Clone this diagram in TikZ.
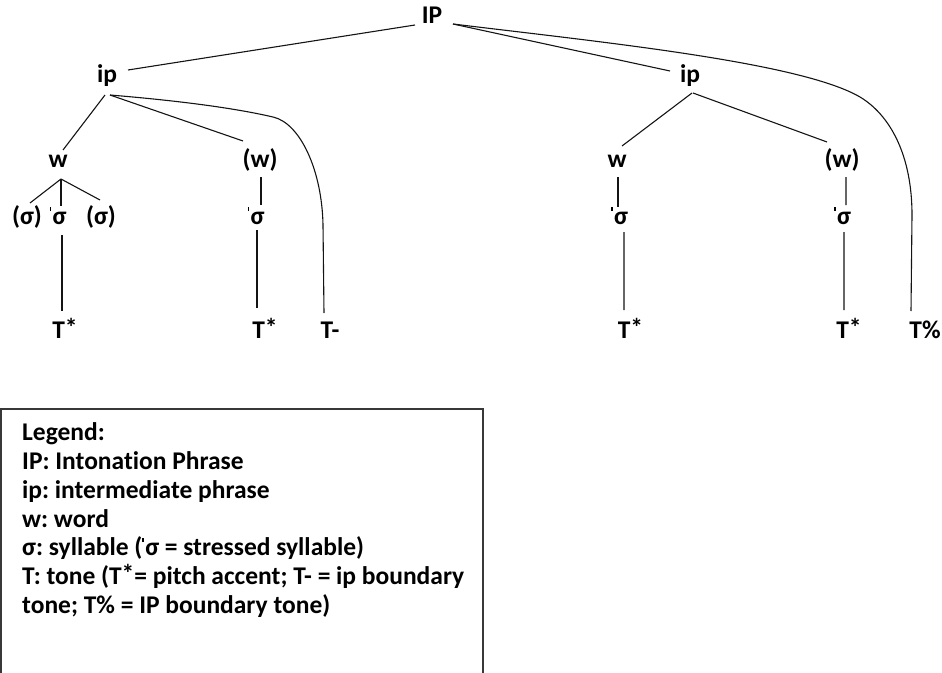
\documentclass[tikz,border=0pt]{standalone}
\usepackage{fontspec}
\setmainfont{Carlito}[Ligatures={NoCommon}]
\usetikzlibrary{calc}
\newcommand\strmark{\rule[13bp]{1.4bp}{4bp}\kern1.5bp}
\newcommand\tstar{T\raisebox{0.04em}{*}}
\begin{document}
\frenchspacing
\begin{tikzpicture}[x=1bp,y=-1bp,
  lab/.style={font=\fontsize{25.5bp}{29bp}\selectfont\bfseries, inner sep=0pt, anchor=base, text=black},
  legline/.style={font=\fontsize{25.5bp}{29bp}\selectfont\bfseries, inner sep=0pt, anchor=base west, text=black},
  edge/.style={draw=black!92, line width=1.1bp},
  frame/.style={draw=black!78, line width=1.4bp}]
\useasboundingbox (0,0) rectangle (942,673);
% tree nodes
\node[lab] (IP)  at (432,24) {IP};
\node[lab] (ipL) at (107,83) {ip};
\node[lab] (ipR) at (690,83) {ip};
\node[lab] (wL)  at (58,168) {w};
\node[lab] (wpL) at (260,168) {(w)};
\node[lab] (wR)  at (617,168) {w};
\node[lab] (wpR) at (842,168) {(w)};
\node[lab] (sL1) at (27,224) {(σ)};
\node[lab] (sL2) at (58,224) {\strmark σ};
\node[lab] (sL3) at (101,224) {(σ)};
\node[lab] (sM)  at (256,224) {\strmark σ};
\node[lab] (sR1) at (619.5,224) {\strmark σ};
\node[lab] (sR2) at (842.5,224) {\strmark σ};
\node[lab] (T1) at (65,338) {\tstar};
\node[lab] (T2) at (265,338) {\tstar};
\node[lab] (T3) at (330,338) {T-};
\node[lab] (T4) at (630.5,338) {\tstar};
\node[lab] (T5) at (849,338) {\tstar};
\node[lab] (T6) at (925,338) {T\%};
\coordinate (wLj) at ($(wL.base)+(3,11)$);
% connectors
\draw[edge] ($(IP.base)+(-17,1)$) -- ($(ipL.base)+(21,-13)$);
\draw[edge] ($(IP.base)+(21,0)$) -- ($(ipR.base)+(-20,-12)$);
\draw[edge] ($(IP.base)+(21,0)$) .. controls (600,42) and (800,62) .. (860,97)
  .. controls (890,115) and (912,155) .. (912,215) -- ($(T6.base)+(-14,-27)$);
\draw[edge] ($(ipL.base)+(-2,12)$) -- ($(wL.base)+(5,-18)$);
\draw[edge] ($(ipL.base)+(3,12)$) -- ($(wpL.base)+(-17,-27)$);
\draw[edge] ($(ipL.base)+(3,12)$) .. controls (170,100) and (230,107) .. (273,117)
  .. controls (300,123) and (322,170) .. (323,225) -- ($(T3.base)+(-6,-25)$);
\draw[edge] (wLj) -- ($(sL1.base)+(3,-21)$);
\draw[edge] (wLj) -- ($(sL2.base)+(3,-18)$);
\draw[edge] (wLj) -- ($(sL3.base)+(-1,-24)$);
\draw[edge] ($(sL2.base)+(4,11)$) -- ($(T1.base)+(-3,-27)$);
\draw[edge] ($(wpL.base)+(1,9)$) -- ($(sM.base)+(5,-19)$);
\draw[edge] ($(sM.base)+(1,6)$) -- ($(T2.base)+(-8,-30)$);
\draw[edge] ($(ipR.base)+(2,10)$) -- ($(wR.base)+(5,-22)$);
\draw[edge] ($(ipR.base)+(3,10)$) -- ($(wpR.base)+(-15,-26)$);
\draw[edge] ($(wR.base)+(1,9)$) -- ($(sR1.base)+(-1.5,-17)$);
\draw[edge] ($(sR1.base)+(4.5,8)$) -- ($(T4.base)+(-6.5,-28)$);
\draw[edge] ($(wpR.base)+(4,9)$) -- ($(sR2.base)+(3.5,-19)$);
\draw[edge] ($(sR2.base)+(1.5,8)$) -- ($(T5.base)+(-5,-28)$);
% legend
\draw[frame] (1,676) -- (1,409) -- (483,409) -- (483,676);
\node[legline] (L1) at (22,440) {Legend:};
\node[legline] (L2) at (22,469) {IP: Intonation Phrase};
\node[legline] (L3) at (22,498) {ip: intermediate phrase};
\node[legline] (L4) at (22,527) {w: word};
\node[legline] (L5) at (22,555) {σ: syllable (\strmark σ = stressed syllable)};
\node[legline] (L6) at (22,584) {T: tone (\tstar= pitch accent; T- = ip boundary};
\node[legline] (L7) at (22,613) {tone; T\% = IP boundary tone)};
\end{tikzpicture}
\end{document}
